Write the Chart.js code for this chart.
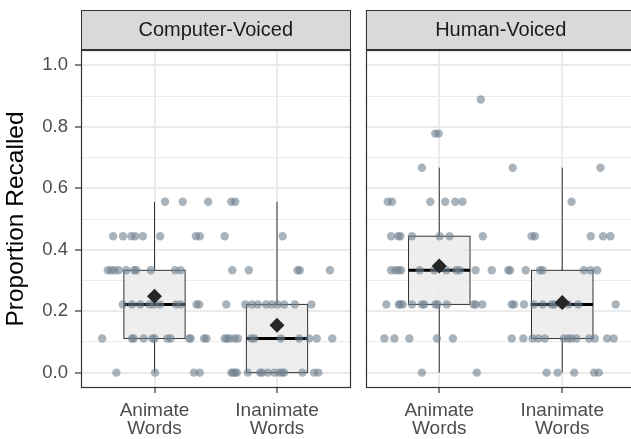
<!DOCTYPE html>
<html><head><meta charset="utf-8">
<script src="https://cdn.jsdelivr.net/npm/chart.js@4.4.1/dist/chart.umd.min.js"></script>
<style>
html,body{margin:0;padding:0;background:#fff;overflow:hidden;width:631px;height:439px;}
#wrap{position:relative;width:631px;height:439px;overflow:hidden;}
canvas{position:absolute;top:0;}
#c1{left:0;} #c2{left:358px;}
</style></head><body>
<div id="wrap"><canvas id="c1" width="358" height="439"></canvas><canvas id="c2" width="290" height="439"></canvas></div>
<script>
// ---------- data ----------
const panels = ["Computer-Voiced", "Human-Voiced"];
const categories = [["Animate", "Words"], ["Inanimate", "Words"]];
const yGridValues = [0, 0.1, 0.2, 0.3, 0.4, 0.5, 0.6, 0.7, 0.8, 0.9, 1.0];
const yGridLabels = ["0.0", "", "0.2", "", "0.4", "", "0.6", "", "0.8", "", "1.0"];
const yTitle = "Proportion Recalled";

// box statistics per category (Animate, Inanimate)
const cvQ1 = [0.111, 0.000], cvMedian = [0.222, 0.111], cvQ3 = [0.333, 0.222];
const cvLow = [0.000, 0.000], cvHigh = [0.556, 0.556], cvMean = [0.249, 0.154];
const hvQ1 = [0.222, 0.111], hvMedian = [0.333, 0.222], hvQ3 = [0.444, 0.333];
const hvLow = [0.000, 0.000], hvHigh = [0.667, 0.667], hvMean = [0.347, 0.228];

// jittered observations: [x position on category axis, proportion]
const cvPoints = [
 [1.086,0.556],[1.230,0.556],[1.438,0.556],[1.627,0.556],[1.659,0.556],
 [0.662,0.444],[0.743,0.444],[0.811,0.444],[0.843,0.444],[0.905,0.444],[1.046,0.444],[1.338,0.444],[1.370,0.444],[1.573,0.444],[2.046,0.444],
 [0.619,0.333],[0.646,0.333],[0.673,0.333],[0.708,0.333],[0.770,0.333],[0.835,0.333],[0.851,0.333],[0.970,0.333],[1.168,0.333],[1.214,0.333],[1.635,0.333],[1.770,0.333],[2.168,0.333],[2.186,0.333],[2.432,0.333],
 [0.741,0.222],[0.816,0.222],[0.884,0.222],[0.959,0.222],[0.997,0.222],[1.046,0.222],[1.176,0.222],[1.214,0.222],[1.343,0.222],[1.365,0.222],[1.586,0.222],[1.741,0.222],[1.795,0.222],[1.843,0.222],[1.911,0.222],[1.959,0.222],[2.005,0.222],[2.059,0.222],[2.146,0.222],[2.281,0.222],
 [0.573,0.111],[0.816,0.111],[0.830,0.111],[0.911,0.111],[0.984,0.111],[1.000,0.111],[1.105,0.111],[1.132,0.111],[1.284,0.111],[1.295,0.111],[1.405,0.111],[1.424,0.111],[1.573,0.111],[1.592,0.111],[1.614,0.111],[1.654,0.111],[1.681,0.111],[1.789,0.111],[1.816,0.111],[2.032,0.111],[2.181,0.111],[2.262,0.111],[2.324,0.111],[2.451,0.111],
 [0.689,0],[1.005,0],[1.322,0],[1.370,0],[1.627,0],[1.641,0],[1.659,0],[1.673,0],[1.762,0],[1.862,0],[1.878,0],[1.924,0],[1.978,0],[2.019,0],[2.041,0],[2.059,0],[2.208,0],[2.303,0],[2.338,0]
];
const hvPoints = [
 [1.338,0.889],
 [0.968,0.778],[0.995,0.778],
 [0.859,0.667],[1.597,0.667],[2.311,0.667],
 [0.581,0.556],[0.616,0.556],[0.927,0.556],[1.049,0.556],[1.130,0.556],[1.189,0.556],[2.076,0.556],
 [0.608,0.444],[0.665,0.444],[0.684,0.444],[0.778,0.444],[1.003,0.444],[1.084,0.444],[1.354,0.444],[1.751,0.444],[1.778,0.444],[2.232,0.444],[2.332,0.444],[2.392,0.444],
 [0.608,0.333],[0.643,0.333],[0.670,0.333],[0.689,0.333],[0.841,0.333],[0.959,0.333],[1.057,0.333],[1.138,0.333],[1.165,0.333],[1.295,0.333],[1.427,0.333],[1.562,0.333],[1.576,0.333],[1.703,0.333],[1.819,0.333],[1.841,0.333],[2.176,0.333],[2.230,0.333],[2.284,0.333],
 [0.570,0.222],[0.670,0.222],[0.684,0.222],[0.703,0.222],[0.778,0.222],[0.859,0.222],[0.878,0.222],[0.968,0.222],[0.986,0.222],[1.062,0.222],[1.278,0.222],[1.297,0.222],[1.351,0.222],[1.589,0.222],[1.608,0.222],[1.689,0.222],[1.770,0.222],[1.841,0.222],[1.914,0.222],[1.935,0.222],[1.995,0.222],[2.049,0.222],[2.130,0.222],[2.435,0.222],
 [0.554,0.111],[0.635,0.111],[0.757,0.111],[0.981,0.111],[1.111,0.111],[1.589,0.111],[1.684,0.111],[1.759,0.111],[1.805,0.111],[1.859,0.111],[2.014,0.111],[2.049,0.111],[2.076,0.111],[2.116,0.111],[2.219,0.111],[2.265,0.111],[2.365,0.111],[2.419,0.111],
 [0.859,0],[1.305,0],[1.873,0],[1.962,0],[2.097,0],[2.259,0],[2.297,0]
];

// ---------- rendering ----------
const FONT = "'Liberation Sans', Arial, sans-serif";
Chart.defaults.font.family = FONT;

const decor = {
  id: 'decor',
  beforeDraw(chart, args, o) {
    const {ctx, chartArea: a} = chart;
    ctx.save();
    ctx.fillStyle = '#D9D9D9';
    ctx.fillRect(a.left, 10, a.right - a.left, 40);
    ctx.strokeStyle = '#333333'; ctx.lineWidth = 1;
    ctx.strokeRect(Math.round(a.left) + 0.5, 10.5, Math.round(a.right - a.left) - 1, 39);
    ctx.fillStyle = '#1A1A1A';
    ctx.font = "20px " + FONT;
    ctx.textAlign = 'center'; ctx.textBaseline = 'middle';
    ctx.fillText(o.label, (a.left + a.right) / 2, 30.5);
    ctx.restore();
  },
  beforeDatasetsDraw(chart, args, o) {
    const {ctx} = chart;
    const xs = chart.scales.x, ys = chart.scales.y;
    const s = o.stats;
    ctx.save();
    for (let i = 0; i < categories.length; i++) {
      const cx = xs.getPixelForValue(i + 1);
      const l = xs.getPixelForValue(i + 1 - 0.25), r = xs.getPixelForValue(i + 1 + 0.25);
      const q1 = ys.getPixelForValue(s.q1[i]), q3 = ys.getPixelForValue(s.q3[i]);
      const lo = ys.getPixelForValue(s.low[i]), hi = ys.getPixelForValue(s.high[i]);
      const md = ys.getPixelForValue(s.median[i]);
      ctx.strokeStyle = '#333333'; ctx.lineWidth = 1;
      ctx.beginPath();
      ctx.moveTo(cx, q3); ctx.lineTo(cx, hi);
      ctx.moveTo(cx, q1); ctx.lineTo(cx, lo);
      ctx.stroke();
      ctx.fillStyle = 'rgba(235,235,235,0.85)';
      ctx.fillRect(l, q3, r - l, q1 - q3);
      ctx.strokeRect(l, q3, r - l, q1 - q3);
      ctx.strokeStyle = '#000000'; ctx.lineWidth = 3;
      ctx.beginPath(); ctx.moveTo(l, md); ctx.lineTo(r, md); ctx.stroke();
    }
    ctx.restore();
  },
  afterDraw(chart) {
    const {ctx, chartArea: a} = chart;
    ctx.save();
    ctx.strokeStyle = '#333333'; ctx.lineWidth = 1.2;
    ctx.strokeRect(Math.round(a.left) + 0.5, Math.round(a.top) + 0.5, Math.round(a.right - a.left) - 1, Math.round(a.bottom - a.top) - 1);
    ctx.restore();
  }
};

function makePanel(id, idx, points, means, stats, showY, padRight, yWidth) {
  new Chart(document.getElementById(id), {
    type: 'scatter',
    data: {
      datasets: [
        { data: means.map((m, i) => ({x: i + 1, y: m})), pointStyle: 'rectRot', pointRadius: 7.5,
          backgroundColor: '#262626', borderColor: '#262626', borderWidth: 0, order: 0 },
        { data: points.map(p => ({x: p[0], y: p[1]})), pointRadius: 4.2,
          backgroundColor: 'rgba(112,128,144,0.6)', borderWidth: 0, order: 1 }
      ]
    },
    options: {
      responsive: false, animation: false, devicePixelRatio: 1, events: [],
      layout: { padding: { top: 50, right: padRight, bottom: 0, left: 0 } },
      plugins: { legend: { display: false }, tooltip: { enabled: false },
        decor: { label: panels[idx], stats: stats } },
      scales: {
        x: {
          type: 'linear', min: 0.4, max: 2.6,
          afterBuildTicks: sc => { sc.ticks = categories.map((c, i) => ({value: i + 1})); },
          afterFit: sc => { sc.height = 51; },
          ticks: { autoSkip: false, maxRotation: 0, padding: 9, color: '#4D4D4D',
            font: { size: 19, lineHeight: 0.95 }, callback: (v, i) => categories[i] },
          grid: { color: '#EBEBEB', lineWidth: 2, tickLength: 5, tickColor: '#333333', tickWidth: 1.2 },
          border: { display: false }
        },
        y: {
          type: 'linear', min: -0.05, max: 1.05,
          afterBuildTicks: sc => { sc.ticks = yGridValues.map(v => ({value: v})); },
          afterFit: sc => { sc.width = yWidth; },
          ticks: { display: showY, padding: 7, color: '#4D4D4D', font: { size: 18.5 },
            callback: (v, i) => yGridLabels[i] },
          grid: { color: '#EBEBEB', drawTicks: showY, tickLength: 6,
            lineWidth: c => (yGridLabels[c.index] ? 2 : 1),
            tickColor: c => (yGridLabels[c.index] ? '#333333' : 'rgba(0,0,0,0)'), tickWidth: 1.2 },
          border: { display: false },
          title: { display: showY, text: yTitle, color: '#000000', font: { size: 24.5, lineHeight: 1.2 },
            padding: { top: 2, bottom: 0 } }
        }
      }
    },
    plugins: [decor]
  });
}

makePanel('c1', 0, cvPoints, cvMean,
  { q1: cvQ1, median: cvMedian, q3: cvQ3, low: cvLow, high: cvHigh }, true, 6, 81);
makePanel('c2', 1, hvPoints, hvMean,
  { q1: hvQ1, median: hvMedian, q3: hvQ3, low: hvLow, high: hvHigh }, false, 12, 7);
</script>
</body></html>
